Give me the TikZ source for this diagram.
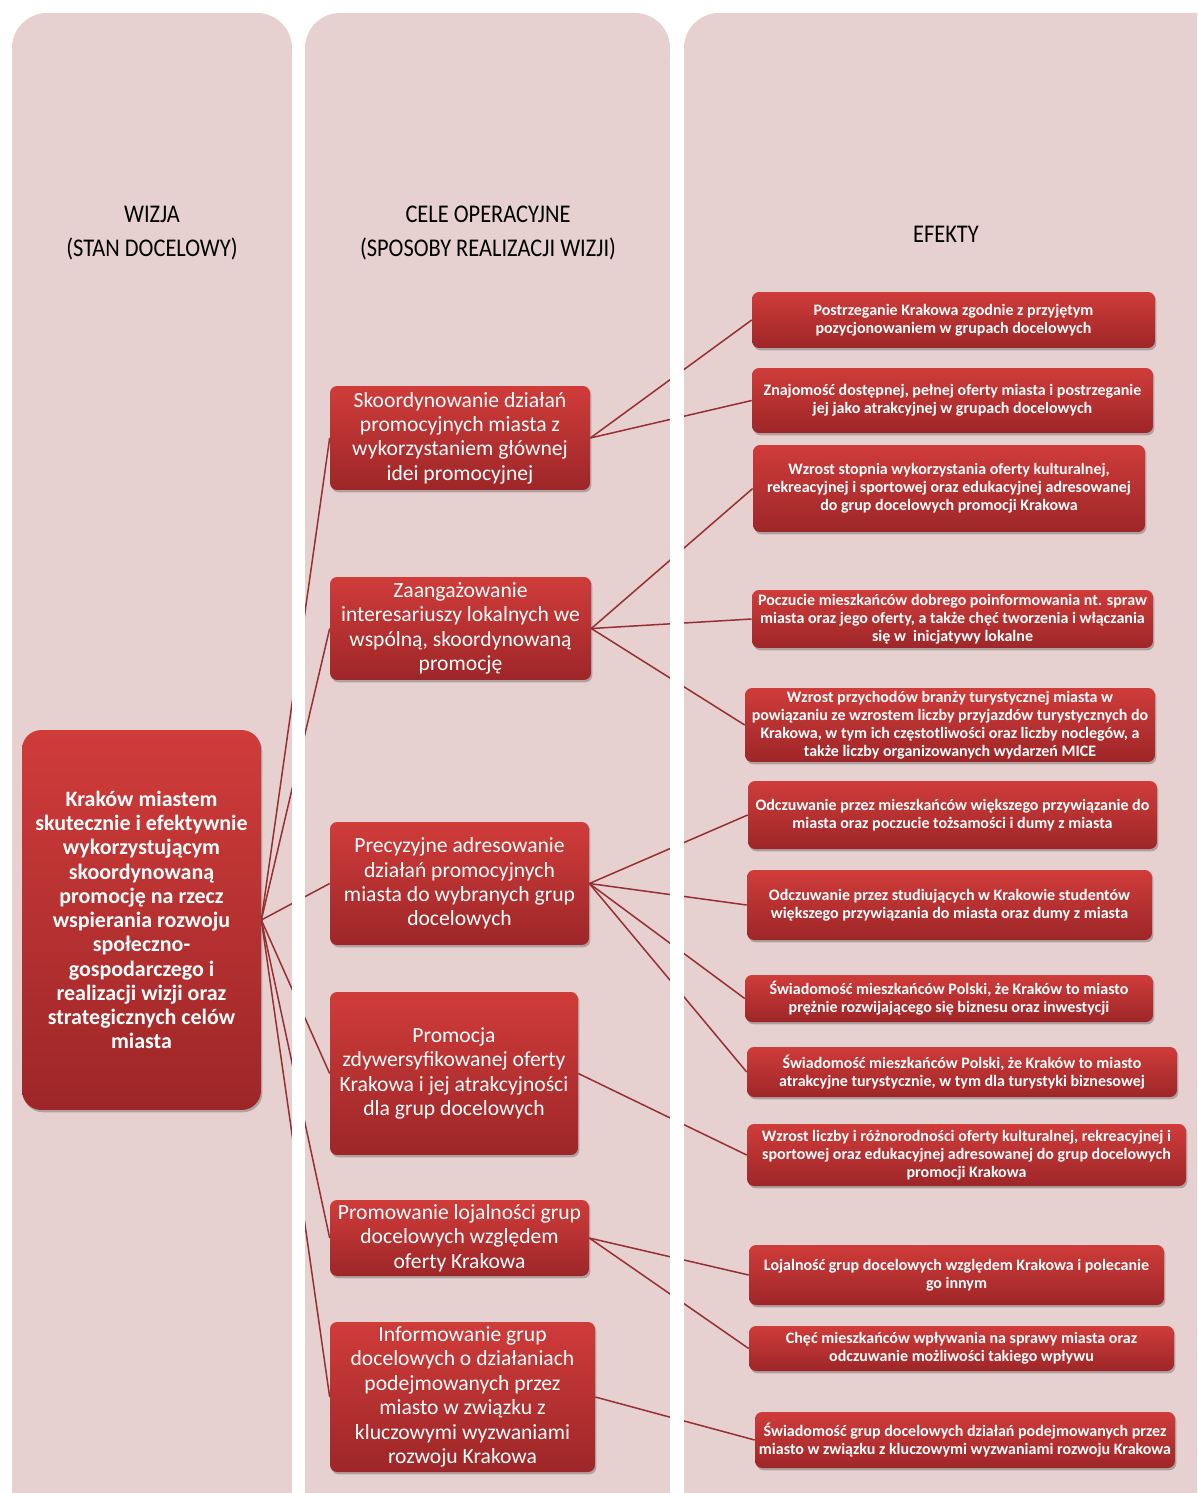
\documentclass[tikz,border=0pt]{standalone}
\usepackage{fontspec}
\setmainfont{Carlito}
\newfontfamily\headfont[FakeStretch=0.88]{Carlito}
\usetikzlibrary{positioning,shadows,backgrounds}
\definecolor{colbg}{RGB}{231,208,208}
\definecolor{boxtop}{RGB}{207,60,58}
\definecolor{boxbot}{RGB}{158,38,40}
\definecolor{linkred}{RGB}{150,46,50}
\tikzset{
	colpanel/.style={fill=colbg, rounded corners=20pt},
	redbox/.style={rounded corners=4pt, top color=boxtop, bottom color=boxbot, text=white, align=center, inner sep=0pt,
		drop shadow={shadow xshift=0.8pt, shadow yshift=-1.3pt, opacity=0.35, fill=black!70}},
	visbox/.style={redbox, rounded corners=11pt, font=\bfseries\fontsize{12.5}{13.8}\selectfont},
	goalbox/.style={redbox, font=\fontsize{12.3}{13.9}\selectfont},
	effbox/.style={redbox, font=\bfseries\fontsize{9.1}{10.2}\selectfont},
	dims/.style 2 args={minimum width=#1cm, minimum height=#2cm},
	link/.style={draw=linkred, line width=0.85pt},
	headtxt/.style={font=\headfont\fontsize{14.5}{19.3}\selectfont, align=center}
}
\begin{document}
\begin{tikzpicture}[x=0.02cm, y=-0.02cm]
	\useasboundingbox (0,0) rectangle (1197,1493);
	
	\node[headtxt] (hwiz) at (152,233) {WIZJA\\(STAN DOCELOWY)};
	\node[headtxt] (hcele) at (488,233) {CELE OPERACYJNE\\(SPOSOBY REALIZACJI WIZJI)};
	\node[headtxt] (hefe) at (946,234) {EFEKTY};
	
	\node[visbox, dims={4.78}{7.6}] (vis) at (141.5,920) {Kraków miastem\\skutecznie i efektywnie\\wykorzystującym\\skoordynowaną\\promocję na rzecz\\wspierania rozwoju\\społeczno-\\gospodarczego i\\realizacji wizji oraz\\strategicznych celów\\miasta};
	
	\node[goalbox, dims={5.2}{2.08}] (g1) at (460,438) {Skoordynowanie działań\\promocyjnych miasta z\\wykorzystaniem głównej\\idei promocyjnej};
	\node[goalbox, dims={5.22}{2.06}] (g2) at (460.5,628.5) {Zaangażowanie\\interesariuszy lokalnych we\\wspólną, skoordynowaną\\promocję};
	\node[goalbox, dims={5.18}{2.46}] (g3) at (459.5,883.5) {Precyzyjne adresowanie\\działań promocyjnych\\miasta do wybranych grup\\docelowych};
	\node[goalbox, dims={4.96}{3.26}] (g4) at (454,1073.5) {Promocja\\zdywersyfikowanej oferty\\Krakowa i jej atrakcyjności\\dla grup docelowych};
	\node[goalbox, dims={5.18}{1.52}] (g5) at (459.5,1238) {Promowanie lojalności grup\\docelowych względem\\oferty Krakowa};
	\node[goalbox, dims={5.3}{3.0}] (g6) at (462.5,1397) {Informowanie grup\\docelowych o działaniach\\podejmowanych przez\\miasto w związku z\\kluczowymi wyzwaniami\\rozwoju Krakowa};
	
	\node[effbox, dims={8.06}{1.12}] (e1) at (953.5,320) {Postrzeganie Krakowa zgodnie z przyjętym\\pozycjonowaniem w grupach docelowych};
	\node[effbox, dims={8.02}{1.3}] (e2) at (952.5,400.5) {Znajomość dostępnej, pełnej oferty miasta i postrzeganie\\jej jako atrakcyjnej w grupach docelowych};
	\node[effbox, dims={7.84}{1.74}] (e3) at (949,488.5) {Wzrost stopnia wykorzystania oferty kulturalnej,\\rekreacyjnej i sportowej oraz edukacyjnej adresowanej\\do grup docelowych promocji Krakowa};
	\node[effbox, dims={8.02}{1.16}] (e4) at (952.5,619) {Poczucie mieszkańców dobrego poinformowania nt. spraw\\miasta oraz jego oferty, a także chęć tworzenia i włączania\\się w\ \ inicjatywy lokalne};
	\node[effbox, dims={8.2}{1.48}] (e5) at (950,725) {Wzrost przychodów branży turystycznej miasta w\\powiązaniu ze wzrostem liczby przyjazdów turystycznych do\\Krakowa, w tym ich częstotliwości oraz liczby noclegów, a\\także liczby organizowanych wydarzeń MICE};
	\node[effbox, dims={8.18}{1.36}] (e6) at (952.5,815) {Odczuwanie przez mieszkańców większego przywiązanie do\\miasta oraz poczucie tożsamości i dumy z miasta};
	\node[effbox, dims={8.1}{1.4}] (e7) at (949.5,905) {Odczuwanie przez studiujących w Krakowie studentów\\większego przywiązania do miasta oraz dumy z miasta};
	\node[effbox, dims={8.16}{0.94}] (e8) at (949,998.5) {Świadomość mieszkańców Polski, że Kraków to miasto\\prężnie rozwijającego się biznesu oraz inwestycji};
	\node[effbox, dims={8.6}{1.0}] (e9) at (962,1072) {Świadomość mieszkańców Polski, że Kraków to miasto\\atrakcyjne turystycznie, w tym dla turystyki biznesowej};
	\node[effbox, dims={8.78}{1.24}] (e10) at (966.5,1155) {Wzrost liczby i różnorodności oferty kulturalnej, rekreacyjnej i\\sportowej oraz edukacyjnej adresowanej do grup docelowych\\promocji Krakowa};
	\node[effbox, dims={8.3}{1.2}] (e11) at (956.5,1275) {Lojalność grup docelowych względem Krakowa i polecanie\\go innym};
	\node[effbox, dims={8.5}{0.9}] (e12) at (961.5,1348.5) {Chęć mieszkańców wpływania na sprawy miasta oraz\\odczuwanie możliwości takiego wpływu};
	\node[effbox, dims={8.4}{1.12}] (e13) at (965,1440) {Świadomość grup docelowych działań podejmowanych przez\\miasto w związku z kluczowymi wyzwaniami rozwoju Krakowa};
	
	\begin{scope}[on background layer]
		\fill[white] (0,0) rectangle (1197,1493);
		\begin{scope}
			\clip (0,0) rectangle (1197,1493);
			\fill[colpanel] (12,1560) rectangle (292,13);
			\fill[colpanel] (305,1560) rectangle (670,13);
			\fill[colpanel] (684,1560) rectangle (1240,13);
		\end{scope}
		
		\foreach \g in {g1,g2,g3,g4,g5,g6}
			\draw[link] (vis.east) -- (\g.west);
		\foreach \e in {e1,e2}
			\draw[link] (g1.east) -- (\e.west);
		\foreach \e in {e3,e4,e5}
			\draw[link] (g2.east) -- (\e.west);
		\foreach \e in {e6,e7,e8,e9}
			\draw[link] (g3.east) -- (\e.west);
		\draw[link] (g4.east) -- (e10.west);
		\foreach \e in {e11,e12}
			\draw[link] (g5.east) -- (\e.west);
		\draw[link] (g6.east) -- (e13.west);
		
		% gaps between the panels stay white
		\fill[white] (292,60) rectangle (305,1493);
		\fill[white] (670,60) rectangle (684,1493);
	\end{scope}
\end{tikzpicture}
\end{document}
